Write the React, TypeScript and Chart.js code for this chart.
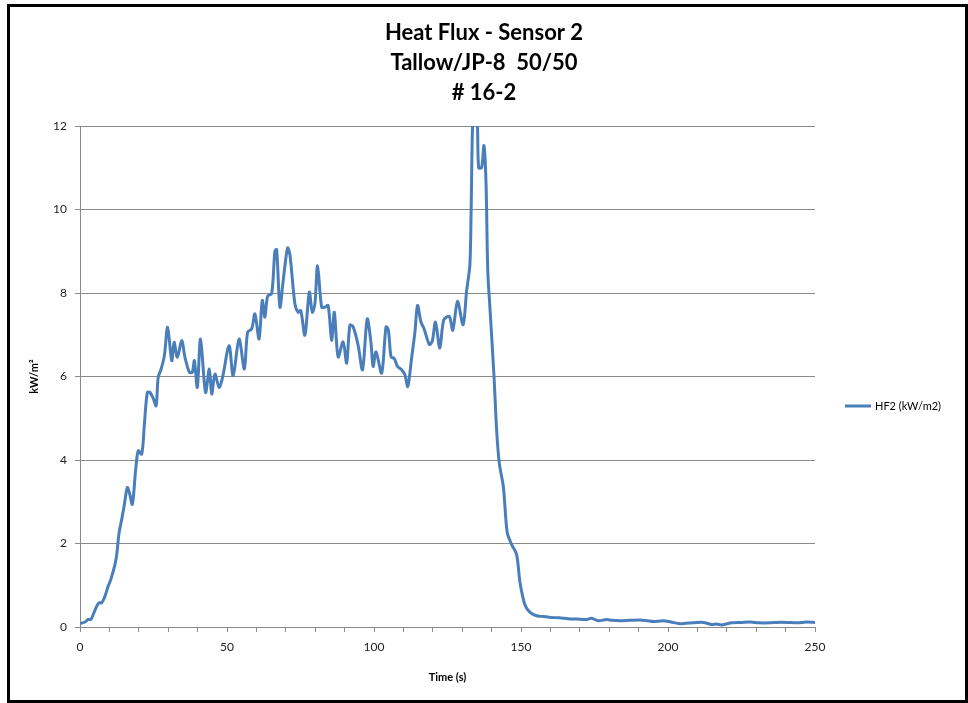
import React, { useEffect, useRef } from "react";
import { Chart, registerables } from "chart.js";

Chart.register(...registerables);

const titleLines = ["Heat Flux - Sensor 2", "Tallow/JP-8  50/50", "# 16-2"];
const seriesLabel = "HF2 (kW/m2)";
const xTitle = "Time (s)";
const yTitle = "kW/m\u00B2";

const times = [
  0, 1.7, 2.8, 3.7, 4.5, 5.7, 6.5, 7.4, 8.5, 9.6, 10.5, 11.9, 12.5, 13.3, 14.2, 15.1, 16.1, 16.8, 17.8, 18.9,
  19.8, 21.0, 21.9, 22.9, 23.8, 25.0, 25.9, 26.6, 27.6, 28.7, 29.8, 31.2, 32.0, 33.1, 34.6, 35.7, 37.2, 38.2, 38.9, 39.9,
  41.0, 42.7, 44.0, 44.8, 45.9, 47.3, 48.5, 50.7, 52.1, 54.1, 55.9, 57.0, 58.4, 59.5, 60.9, 62.0, 62.9, 63.8, 65.2, 66.3,
  66.9, 68.0, 69.1, 70.6, 71.4, 73.1, 74.2, 75.1, 76.5, 78.0, 79.0, 79.9, 80.8, 82.2, 83.3, 84.4, 85.6, 86.5, 87.8, 89.5,
  90.7, 91.8, 92.9, 94.6, 96.1, 97.7, 99.0, 99.7, 100.7, 102.6, 104.1, 104.9, 105.8, 106.9, 108.0, 109.4, 110.5, 111.5, 112.8, 113.9,
  114.8, 116.0, 117.0, 118.8, 119.8, 120.9, 122.4, 123.7, 125.6, 126.8, 128.4, 130.3, 131.5, 132.6, 133.0, 133.6, 134.5, 135.2, 135.6, 136.6,
  137.4, 138.1, 138.7, 139.5, 140.8, 141.7, 142.6, 144.0, 145.3, 146.8, 148.5, 149.7, 151.4, 153.1, 155.3, 157.6, 159.9, 163, 166, 169,
  172.3, 174, 176.3, 179.1, 181, 183.7, 187, 190.5, 193, 195, 198.4, 201, 204.1, 206, 208.6, 212, 214.9, 216.5, 218.3, 221.7,
  225, 227.9, 231, 234.7, 237, 240.4, 244, 247, 250,
];

const hf2 = [
  0.08, 0.12, 0.18, 0.18, 0.3, 0.5, 0.58, 0.58, 0.74, 0.98, 1.14, 1.5, 1.74, 2.26, 2.58, 2.94, 3.34, 3.22, 2.94, 3.74,
  4.22, 4.14, 4.86, 5.62, 5.62, 5.46, 5.3, 5.98, 6.18, 6.5, 7.18, 6.38, 6.82, 6.46, 6.86, 6.46, 6.1, 6.1, 6.38, 5.74,
  6.9, 5.62, 6.18, 5.58, 6.06, 5.74, 5.98, 6.74, 6.02, 6.9, 6.18, 7.06, 7.14, 7.5, 6.9, 7.82, 7.42, 7.92, 7.99, 9.0,
  9.04, 7.66, 8.29, 9.08, 8.92, 7.74, 7.54, 7.58, 6.99, 8.02, 7.54, 7.74, 8.65, 7.66, 7.66, 7.7, 6.87, 7.54, 6.47, 6.83,
  6.32, 7.23, 7.19, 6.75, 6.16, 7.38, 6.79, 6.24, 6.59, 6.08, 7.19, 7.11, 6.47, 6.43, 6.24, 6.16, 6.04, 5.76, 6.45, 7.05,
  7.7, 7.3, 7.15, 6.77, 6.84, 7.3, 6.68, 7.35, 7.44, 7.11, 7.8, 7.24, 8.05, 8.66, 9.83, 12.2, 13.0, 12.0, 11.0, 11.0,
  11.53, 10.64, 8.54, 7.57, 6.03, 4.73, 3.93, 3.36, 2.27, 1.98, 1.74, 1.05, 0.52, 0.35, 0.27, 0.25, 0.23, 0.22, 0.2, 0.19,
  0.18, 0.21, 0.15, 0.18, 0.16, 0.15, 0.16, 0.17, 0.15, 0.13, 0.15, 0.12, 0.08, 0.09, 0.1, 0.11, 0.06, 0.07, 0.05, 0.1,
  0.11, 0.12, 0.1, 0.1, 0.11, 0.11, 0.1, 0.12, 0.11,
];

const LINE_COLOR = "#4a7ebb";
const GRID_COLOR = "#8a8a8a";
const FONT = "Lato, 'Open Sans', sans-serif";

const framePlugin = {
  id: "frameAndLegend",
  afterDraw(chart: any) {
    const { ctx, chartArea } = chart;
    ctx.save();
    // outer frame
    ctx.strokeStyle = "#000";
    ctx.lineWidth = 3;
    ctx.strokeRect(8.5, 5.5, 958, 696);
    // legend
    const ly = 406;
    const lx = chartArea.right + 30;
    ctx.strokeStyle = LINE_COLOR;
    ctx.lineWidth = 3;
    ctx.beginPath();
    ctx.moveTo(lx, ly);
    ctx.lineTo(lx + 26, ly);
    ctx.stroke();
    ctx.fillStyle = "#000";
    ctx.font = `11px ${FONT}`;
    ctx.textBaseline = "middle";
    ctx.textAlign = "left";
    ctx.fillText(seriesLabel, lx + 30, ly);
    ctx.restore();
  },
};

export default function App() {
  const ref = useRef<HTMLCanvasElement | null>(null);
  useEffect(() => {
    document.body.style.margin = "0";
    if (!ref.current) return;
    const chart = new Chart(ref.current, {
      type: "line",
      data: {
        datasets: [
          {
            label: seriesLabel,
            data: times.map((t, i) => ({ x: t, y: hf2[i] })),
            borderColor: LINE_COLOR,
            backgroundColor: LINE_COLOR,
            borderWidth: 3,
            pointRadius: 0,
            tension: 0.3,
          },
        ],
      },
      options: {
        responsive: false,
        animation: false,
        layout: { padding: { top: 4, left: 10, right: 10, bottom: 6 } },
        plugins: {
          legend: { display: false },
          tooltip: { enabled: false },
          title: {
            display: true,
            text: titleLines,
            color: "#000",
            font: { family: FONT, size: 22, weight: "bold", lineHeight: 1.364 },
            padding: { top: 14, bottom: 18 },
          },
        },
        scales: {
          x: {
            type: "linear",
            min: 0,
            max: 250,
            afterFit: (s: any) => {
              s.height = 70;
            },
            grid: {
              drawOnChartArea: false,
              drawTicks: true,
              tickLength: 5,
              color: GRID_COLOR,
            },
            border: { color: GRID_COLOR, width: 1 },
            ticks: {
              stepSize: 10,
              autoSkip: false,
              maxRotation: 0,
              padding: 8,
              color: "#222",
              font: { family: FONT, size: 12 },
              callback: (v: any) => (Number(v) % 50 === 0 ? String(v) : ""),
            },
            title: {
              display: true,
              text: xTitle,
              color: "#000",
              font: { family: FONT, size: 11, weight: "bold" },
              padding: { top: 0, bottom: 13 },
            },
          },
          y: {
            type: "linear",
            min: 0,
            max: 12,
            afterFit: (s: any) => {
              s.width = 70;
            },
            grid: {
              color: GRID_COLOR,
              tickLength: 5,
            },
            border: { color: GRID_COLOR, width: 1 },
            ticks: {
              stepSize: 2,
              padding: 8,
              color: "#222",
              font: { family: FONT, size: 12 },
            },
            title: {
              display: true,
              text: yTitle,
              color: "#000",
              font: { family: FONT, size: 11, weight: "bold" },
              padding: { top: 18, bottom: 0 },
            },
          },
          y2: {
            type: "linear",
            position: "right",
            display: true,
            afterFit: (s: any) => {
              s.width = 143;
            },
            grid: { display: false, drawTicks: false },
            border: { display: false },
            ticks: { display: false },
          },
        },
      },
      plugins: [framePlugin],
    });
    return () => chart.destroy();
  }, []);
  return (
    <div style={{ width: 968, height: 703, position: "relative" }}>
      <canvas ref={ref} width={968} height={703} style={{ display: "block" }} />
    </div>
  );
}
